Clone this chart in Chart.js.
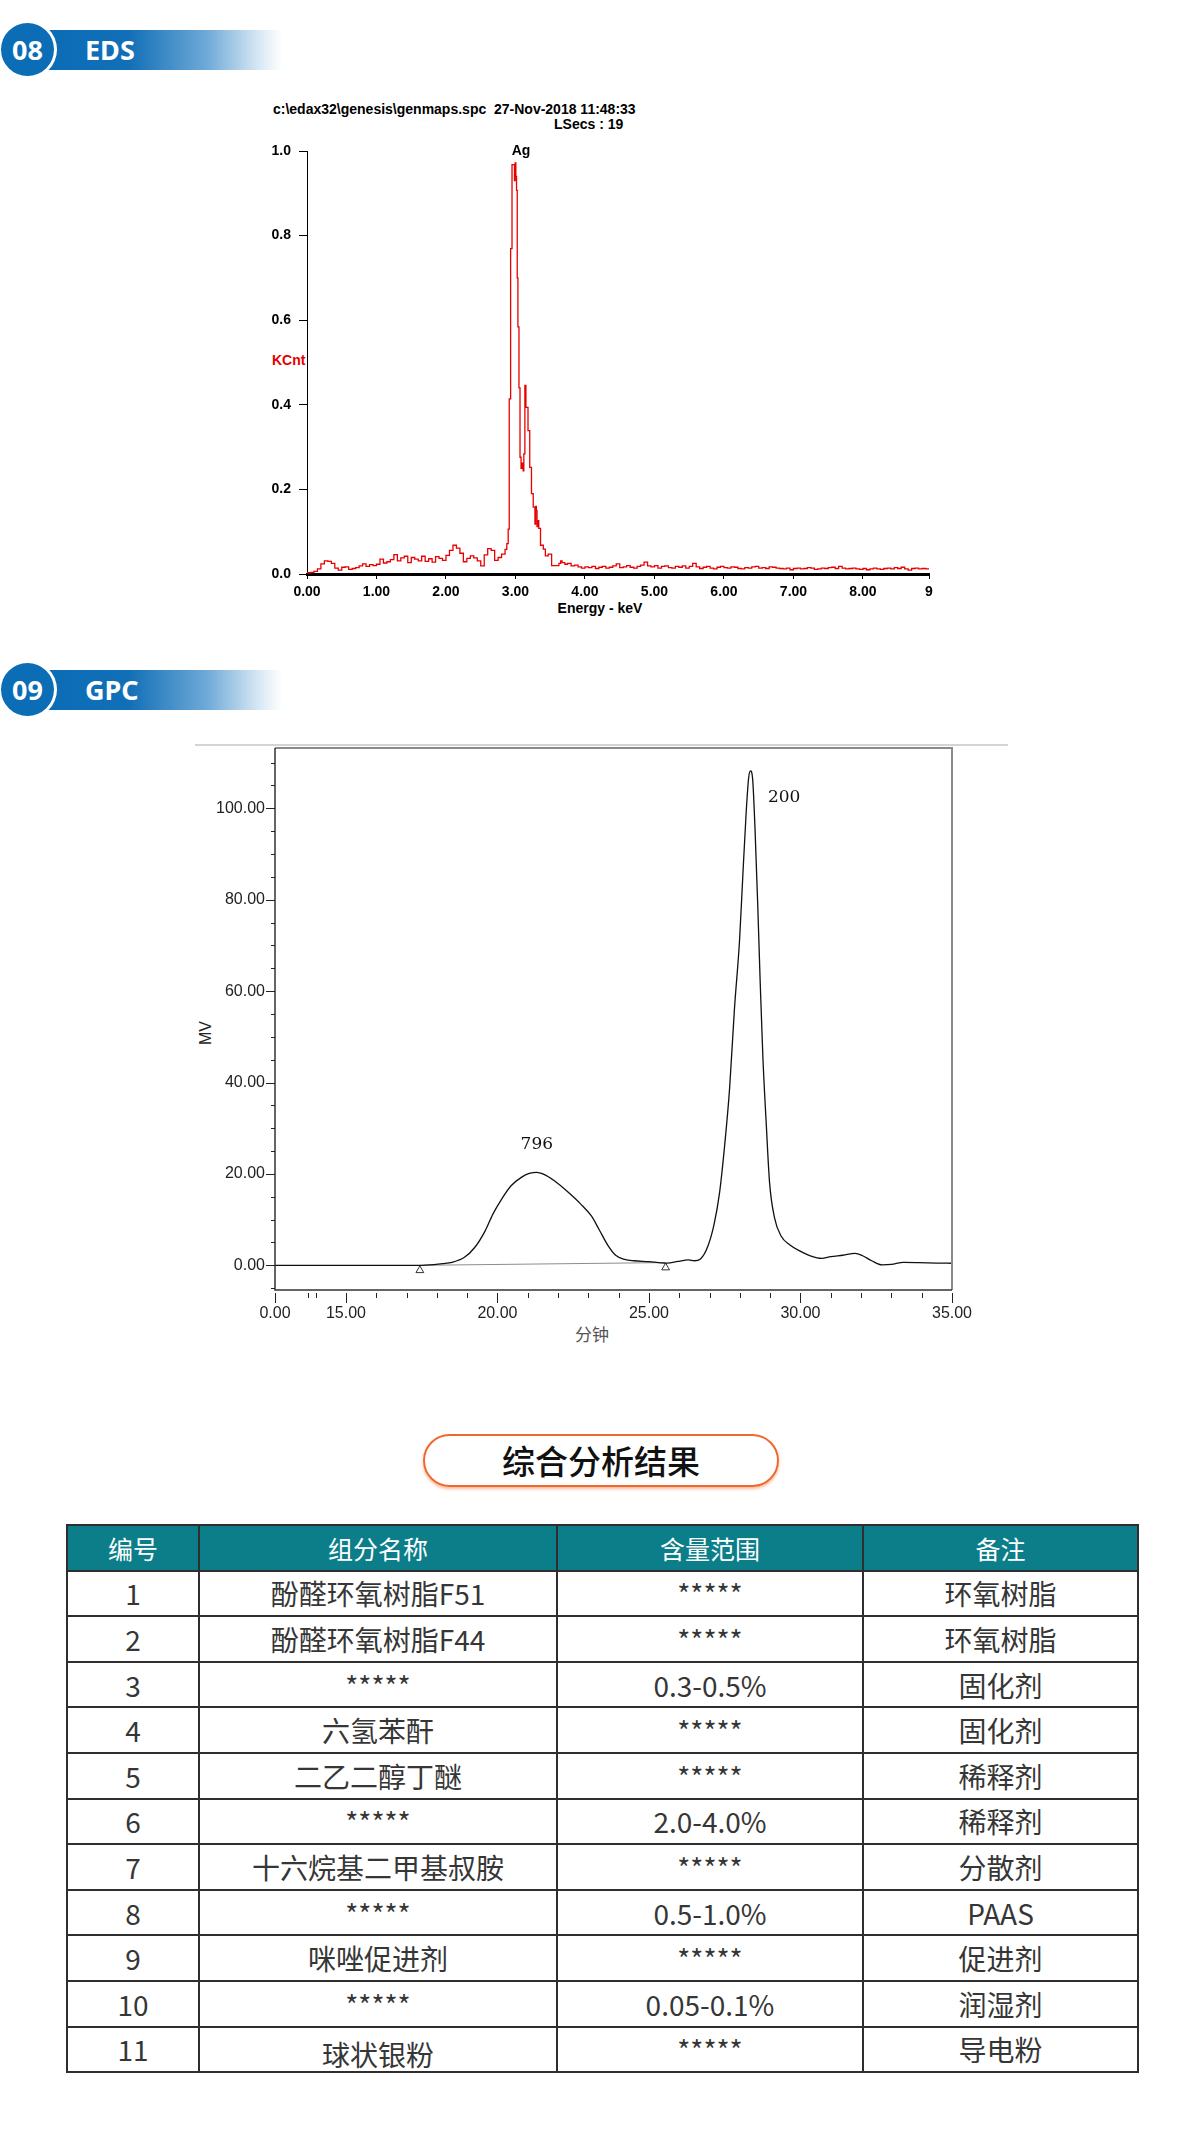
<!DOCTYPE html>
<html>
<head>
<meta charset="utf-8">
<script src="https://cdn.jsdelivr.net/npm/chart.js@4.4.1/dist/chart.umd.min.js"></script>
<style>
  html, body { margin: 0; padding: 0; background: #fff; }
  #page { position: relative; width: 1200px; height: 2130px; overflow: hidden; }
  .abs { position: absolute; white-space: nowrap; }
  .badge { position: absolute; left: 1px; width: 53px; height: 53px; border-radius: 50%;
    background: #0b6db6; box-shadow: 0 0 0 3px #fff; color: #fff; font: bold 27px/53px "Noto Sans", sans-serif;
    text-align: center; z-index: 2; }
  .bar { position: absolute; left: 46px; width: 236px; height: 40px;
    background: linear-gradient(to right, #0b6db6 0%, #126fb7 35%, #6ea9d7 68%, #d6e7f4 90%, #ffffff 100%);
    color: #fff; font: bold 27px/40px "Noto Sans", sans-serif; }
  .bar span { position: absolute; left: 39px; }
  .eds { font: bold 14px "Liberation Sans", Arial, sans-serif; color: #000; }
  canvas { position: absolute; }
  .pill { position: absolute; left: 423px; top: 1434px; width: 352px; height: 49px;
    border: 2px solid #f0682a; border-radius: 27px; box-shadow: 0 2px 3px rgba(240,104,42,0.45);
    text-align: center; font: 500 33px/49px "Noto Sans CJK SC", sans-serif; color: #111; }
  table { position: absolute; left: 66px; top: 1524px; width: 1071px; border-collapse: collapse;
    table-layout: fixed; font-family: "Noto Sans CJK SC", sans-serif; }
  td, th { border: 2px solid #2e2e2e; height: 43.6px; padding: 0; text-align: center; vertical-align: middle;
    font-size: 28px; font-weight: normal; color: #363636; line-height: 32px; }
  th { background: #0b7e8a; color: #fff; font-size: 25px; }
  td.low { padding-top: 10px; height: 33.6px; }
</style>
</head>
<body>
<div id="page">
  <div class="bar" style="top:30px"><span>EDS</span></div>
  <div class="badge" style="top:23px">08</div>

  <div class="abs eds" style="left:273px; top:101px">c:\edax32\genesis\genmaps.spc&nbsp; 27-Nov-2018 11:48:33</div>
  <div class="abs eds" style="left:554px; top:116px">LSecs : 19</div>
  <div class="abs eds" style="left:272px; top:352px; color:#e60000">KCnt</div>
  <div class="abs eds" style="left:600px; top:600px; transform:translateX(-50%)">Energy - keV</div>
  <canvas id="eds" width="760" height="540" style="left:200px; top:90px; width:760px; height:540px"></canvas>

  <div class="bar" style="top:670px"><span>GPC</span></div>
  <div class="badge" style="top:663px">09</div>

  <div class="abs" style="left:195px; top:744px; width:813px; height:2px; background:#d4d4d4"></div>
  <div class="abs" style="left:206px; top:1033px; transform:translate(-50%,-50%) rotate(-90deg); font:16px 'Liberation Sans', Arial, sans-serif; color:#222">MV</div>
  <div class="abs" style="left:592px; top:1333px; transform:translate(-50%,-50%); font:17px 'Noto Sans CJK SC', sans-serif; color:#555">分钟</div>
  <canvas id="gpc" width="800" height="630" style="left:180px; top:730px; width:800px; height:630px"></canvas>

  <div class="pill">综合分析结果</div>
  <table id="tbl">
    <colgroup><col style="width:132px"><col style="width:358px"><col style="width:306px"><col style="width:275px"></colgroup>
    <thead><tr><th>编号</th><th>组分名称</th><th>含量范围</th><th>备注</th></tr></thead>
    <tbody></tbody>
  </table>
</div>

<script>
// ---- EDS spectrum (keV / KCnt) ----
const edsKeV = [
  0.00,0.05,0.10,0.15,0.20,0.25,0.30,0.35,0.40,0.45,
  0.50,0.55,0.60,0.65,0.70,0.75,0.80,0.85,0.90,0.95,
  1.00,1.05,1.10,1.15,1.20,1.25,1.30,1.35,1.40,1.45,
  1.50,1.55,1.60,1.65,1.70,1.75,1.80,1.85,1.90,1.95,
  2.00,2.05,2.10,2.15,2.20,2.25,2.30,2.35,2.40,2.45,
  2.50,2.55,2.60,2.65,2.70,2.75,2.80,2.85,
  2.875,2.895,2.91,2.93,2.95,2.985,2.995,3.005,3.015,3.025,
  3.035,3.05,3.065,3.08,3.095,3.11,3.12,3.135,3.15,3.18,
  3.205,3.23,3.255,3.28,3.29,3.30,3.31,3.325,3.335,3.36,
  3.40,3.43,3.47,3.52,3.625,3.65,3.67,3.71,3.75,3.80,
  3.85,3.90,3.95,4.00,
  4.05,4.10,4.15,4.20,4.25,4.30,4.35,4.40,4.45,4.50,
  4.55,4.60,4.65,4.70,4.75,4.80,4.85,4.90,4.95,5.00,
  5.05,5.10,5.15,5.20,5.25,5.30,5.35,5.40,5.45,5.50,
  5.55,5.60,5.65,5.70,5.75,5.80,5.85,5.90,5.95,6.00,
  6.05,6.10,6.15,6.20,6.25,6.30,6.35,6.40,6.45,6.50,
  6.55,6.60,6.65,6.70,6.75,6.80,6.85,6.90,6.95,7.00,
  7.05,7.10,7.15,7.20,7.25,7.30,7.35,7.40,7.45,7.50,
  7.55,7.60,7.65,7.70,7.75,7.80,7.85,7.90,7.95,8.00,
  8.05,8.10,8.15,8.20,8.25,8.30,8.35,8.40,8.45,8.50,
  8.55,8.60,8.65,8.70,8.75,8.80,8.85,8.90,8.95
];
const edsKCnt = [
  0.003,0.003,0.004,0.006,0.012,0.024,0.031,0.030,0.025,0.014,
  0.009,0.016,0.017,0.011,0.013,0.015,0.019,0.024,0.018,0.022,
  0.020,0.023,0.035,0.026,0.029,0.034,0.046,0.031,0.038,0.042,
  0.027,0.039,0.035,0.031,0.042,0.030,0.036,0.028,0.041,0.037,
  0.032,0.044,0.056,0.068,0.061,0.049,0.029,0.037,0.043,0.038,
  0.031,0.019,0.045,0.060,0.056,0.032,0.039,0.047,
  0.058,0.072,0.106,0.414,0.769,0.968,0.930,0.972,0.940,0.907,
  0.700,0.584,0.440,0.276,0.250,0.262,0.244,0.284,0.446,0.394,
  0.339,0.252,0.190,0.158,0.118,0.160,0.150,0.112,0.126,0.108,
  0.068,0.059,0.043,0.047,0.020,0.025,0.031,0.027,0.023,0.025,
  0.019,0.021,0.017,0.014,
  0.017,0.015,0.018,0.013,0.016,0.018,0.014,0.016,0.019,0.024,
  0.015,0.017,0.020,0.016,0.014,0.018,0.021,0.028,0.019,0.017,
  0.020,0.014,0.018,0.019,0.015,0.014,0.018,0.016,0.019,0.014,
  0.018,0.025,0.017,0.013,0.016,0.018,0.014,0.012,0.016,0.018,
  0.015,0.014,0.017,0.016,0.013,0.012,0.015,0.014,0.017,0.018,
  0.014,0.015,0.013,0.017,0.016,0.014,0.013,0.012,0.014,0.010,
  0.013,0.014,0.012,0.013,0.015,0.014,0.011,0.012,0.014,0.013,
  0.015,0.016,0.013,0.018,0.014,0.012,0.013,0.014,0.012,0.011,
  0.013,0.010,0.012,0.014,0.012,0.011,0.013,0.014,0.012,0.015,
  0.013,0.016,0.012,0.009,0.013,0.014,0.012,0.013,0.012
];
const edsXTicks = [0, 1, 2, 3, 4, 5, 6, 7, 8, 8.95];
const edsXTickLabels = ['0.00', '1.00', '2.00', '3.00', '4.00', '5.00', '6.00', '7.00', '8.00', '9'];
const edsYTicks = [0, 0.2, 0.4, 0.6, 0.8, 1.0];
const edsYTickLabels = ['0.0', '0.2', '0.4', '0.6', '0.8', '1.0'];
const edsPeakLabel = 'Ag';
const edsPeakKeV = 3.08;

// ---- GPC chromatogram (min / MV) ----
const gpcMin = [
  12.66, 14, 16, 17.4, 17.9, 18.2, 18.5, 18.9, 19.25, 19.6,
  19.85, 20.15, 20.45, 20.8, 21.05, 21.3, 21.5, 21.9, 22.3, 22.75,
  23.1, 23.35, 23.65, 23.9, 24.2, 24.5, 25.0, 25.4, 25.6, 25.95,
  26.3, 26.5, 26.7, 26.95, 27.15, 27.33, 27.49, 27.66, 27.82, 27.99,
  28.1, 28.21, 28.29, 28.35, 28.42, 28.5, 28.59, 28.67, 28.76, 28.87,
  28.98, 29.14, 29.36, 29.64, 30.02, 30.35, 30.7, 31.0, 31.4, 31.8,
  32.05, 32.35, 32.7, 33.0, 33.4, 33.9, 34.5, 35.0
];
const gpcMV = [
  0, 0, 0, 0, 0.15, 0.35, 0.65, 1.7, 3.9, 7.6,
  11.2, 14.6, 17.4, 19.3, 20.1, 20.35, 20.0, 18.4, 16.2, 13.4,
  10.8, 7.9, 4.3, 2.2, 1.3, 1.0, 0.8, 0.55, 0.5, 0.85,
  1.2, 1.0, 1.4, 4.3, 9.0, 15.9, 25.7, 38.6, 56, 71.2,
  85.6, 99.3, 106.7, 108.2, 106.5, 95.5, 78.8, 62.1, 45.4, 31,
  18.1, 10.5, 6.4, 4.5, 3.0, 2.0, 1.5, 1.9, 2.2, 2.6,
  2.1, 1.0, 0.1, 0.2, 0.65, 0.6, 0.5, 0.45
];
const gpcBaseMin = [17.44, 25.55];
const gpcBaseMV = [0, 0.6];
const gpcMarkMin = [17.44, 25.55];
const gpcMarkMV = [-1.1, -0.5];
const gpcPeakLabels = ['796', '200'];
const gpcPeakMin = [21.3, 29.46];
const gpcPeakMV = [26.5, 102.3];
const gpcXTicks = [12.66, 15, 20, 25, 30, 35];
const gpcXTickLabels = ['0.00', '15.00', '20.00', '25.00', '30.00', '35.00'];
const gpcXMinor = [13.75, 14, 16, 17, 18, 19, 21, 22, 23, 24, 26, 27, 28, 29, 31, 32, 33, 34];
const gpcYTicks = [0, 20, 40, 60, 80, 100];
const gpcYTickLabels = ['0.00', '20.00', '40.00', '60.00', '80.00', '100.00'];

// ---- result table ----
const tblNo = ['1', '2', '3', '4', '5', '6', '7', '8', '9', '10', '11'];
const tblName = ['酚醛环氧树脂F51', '酚醛环氧树脂F44', '*****', '六氢苯酐', '二乙二醇丁醚', '*****',
  '十六烷基二甲基叔胺', '*****', '咪唑促进剂', '*****', '球状银粉'];
const tblRange = ['*****', '*****', '0.3-0.5%', '*****', '*****', '2.0-4.0%', '*****',
  '0.5-1.0%', '*****', '0.05-0.1%', '*****'];
const tblNote = ['环氧树脂', '环氧树脂', '固化剂', '固化剂', '稀释剂', '稀释剂', '分散剂',
  'PAAS', '促进剂', '润湿剂', '导电粉'];

const tbody = document.querySelector('#tbl tbody');
tblNo.forEach(function (no, i) {
  const tr = document.createElement('tr');
  [no, tblName[i], tblRange[i], tblNote[i]].forEach(function (txt, j) {
    const td = document.createElement('td');
    td.textContent = txt;
    if (i === 10 && j === 1) td.className = 'low';
    tr.appendChild(td);
  });
  tbody.appendChild(tr);
});

const pairs = (xs, ys) => xs.map((x, i) => ({ x: x, y: ys[i] }));
const fixTicks = (vals) => (s) => { s.ticks = vals.map(v => ({ value: v })); };
const sans = '"Liberation Sans", Arial, sans-serif';

// EDS peak label
const edsLabelPlugin = {
  id: 'edsLabel',
  afterDatasetsDraw(chart) {
    const ctx = chart.ctx, x = chart.scales.x, y = chart.scales.y;
    ctx.save();
    ctx.font = 'bold 14px ' + sans;
    ctx.fillStyle = '#000';
    ctx.textAlign = 'center';
    ctx.textBaseline = 'middle';
    ctx.fillText(edsPeakLabel, x.getPixelForValue(edsPeakKeV), y.getPixelForValue(1.0));
    ctx.restore();
  }
};

new Chart(document.getElementById('eds'), {
  type: 'line',
  data: {
    datasets: [{
      data: pairs(edsKeV, edsKCnt),
      borderColor: '#e60000',
      borderWidth: 1.3,
      pointRadius: 0,
      stepped: 'after',
      fill: false
    }]
  },
  options: {
    responsive: false,
    animation: false,
    layout: { padding: { top: 61, right: 31, left: 0, bottom: 0 } },
    plugins: { legend: { display: false }, tooltip: { enabled: false } },
    scales: {
      x: {
        type: 'linear', min: 0, max: 8.95,
        afterBuildTicks: fixTicks(edsXTicks),
        afterFit: (s) => { s.height = 56; },
        ticks: {
          autoSkip: false, maxRotation: 0, padding: 5, color: '#000',
          font: { family: sans, size: 14, weight: 'bold' },
          callback: (v, i) => edsXTickLabels[i]
        },
        grid: { drawOnChartArea: false, tickLength: 5, color: '#000' },
        border: { color: '#000', width: 3 }
      },
      y: {
        type: 'linear', min: 0, max: 1,
        afterBuildTicks: fixTicks(edsYTicks),
        afterFit: (s) => { s.width = 107; },
        ticks: {
          padding: 8, color: '#000',
          font: { family: sans, size: 14, weight: 'bold' },
          callback: (v, i) => edsYTickLabels[i]
        },
        grid: { drawOnChartArea: false, tickLength: 8, color: '#000' },
        border: { color: '#000', width: 1 }
      }
    }
  },
  plugins: [edsLabelPlugin]
});

// GPC frame, tick marks and peak labels
const gpcFramePlugin = {
  id: 'gpcFrame',
  afterDraw(chart) {
    const ctx = chart.ctx, a = chart.chartArea, x = chart.scales.x, y = chart.scales.y;
    ctx.save();
    ctx.lineWidth = 2;
    ctx.strokeStyle = '#8a8a8a';
    ctx.beginPath();
    ctx.moveTo(a.left, a.top); ctx.lineTo(a.right, a.top); ctx.lineTo(a.right, a.bottom);
    ctx.stroke();
    ctx.strokeStyle = '#333';
    ctx.lineWidth = 1.5;
    ctx.beginPath();
    ctx.moveTo(a.left, a.top); ctx.lineTo(a.left, a.bottom); ctx.lineTo(a.right, a.bottom);
    ctx.stroke();

    ctx.lineWidth = 1;
    ctx.strokeStyle = '#222';
    ctx.beginPath();
    gpcXTicks.forEach(v => {
      const px = Math.round(x.getPixelForValue(v)) + 0.5;
      ctx.moveTo(px, a.bottom + 3); ctx.lineTo(px, a.bottom + 13);
    });
    gpcXMinor.forEach(v => {
      const px = Math.round(x.getPixelForValue(v)) + 0.5;
      ctx.moveTo(px, a.bottom + 3); ctx.lineTo(px, a.bottom + 8);
    });
    for (let v = -5; v <= 110; v += 5) {
      const py = Math.round(y.getPixelForValue(v)) + 0.5;
      const len = gpcYTicks.includes(v) ? 9 : 4;
      ctx.moveTo(a.left - len, py); ctx.lineTo(a.left, py);
    }
    ctx.stroke();

    ctx.font = '17px "DejaVu Serif", serif';
    ctx.fillStyle = '#111';
    ctx.textAlign = 'center';
    ctx.textBaseline = 'middle';
    gpcPeakLabels.forEach((t, i) => {
      ctx.fillText(t, x.getPixelForValue(gpcPeakMin[i]), y.getPixelForValue(gpcPeakMV[i]));
    });
    ctx.restore();
  }
};

new Chart(document.getElementById('gpc'), {
  type: 'line',
  data: {
    datasets: [{
      data: pairs(gpcMin, gpcMV),
      borderColor: '#111',
      borderWidth: 1.3,
      pointRadius: 0,
      cubicInterpolationMode: 'monotone',
      fill: false
    }, {
      data: pairs(gpcBaseMin, gpcBaseMV),
      borderColor: '#8c8c8c',
      borderWidth: 1,
      pointRadius: 0,
      fill: false
    }, {
      data: pairs(gpcMarkMin, gpcMarkMV),
      showLine: false,
      pointStyle: 'triangle',
      pointRadius: 4.5,
      pointBorderWidth: 1,
      pointBorderColor: '#333',
      pointBackgroundColor: '#fff'
    }]
  },
  options: {
    responsive: false,
    animation: false,
    layout: { padding: { top: 18, right: 28, left: 0, bottom: 0 } },
    plugins: { legend: { display: false }, tooltip: { enabled: false } },
    scales: {
      x: {
        type: 'linear', min: 12.66, max: 35,
        afterBuildTicks: fixTicks(gpcXTicks),
        afterFit: (s) => { s.height = 70; },
        ticks: {
          autoSkip: false, maxRotation: 0, padding: 0, color: '#222',
          font: { family: sans, size: 16 },
          callback: (v, i) => gpcXTickLabels[i]
        },
        grid: { drawOnChartArea: false, tickLength: 14, color: 'rgba(0,0,0,0)' },
        border: { display: false }
      },
      y: {
        type: 'linear', min: -5.4, max: 113.2,
        afterBuildTicks: fixTicks(gpcYTicks),
        afterFit: (s) => { s.width = 95; },
        ticks: {
          padding: 1, color: '#222',
          font: { family: sans, size: 16 },
          callback: (v, i) => gpcYTickLabels[i]
        },
        grid: { drawOnChartArea: false, tickLength: 9, color: 'rgba(0,0,0,0)' },
        border: { display: false }
      }
    }
  },
  plugins: [gpcFramePlugin]
});
</script>
</body>
</html>
